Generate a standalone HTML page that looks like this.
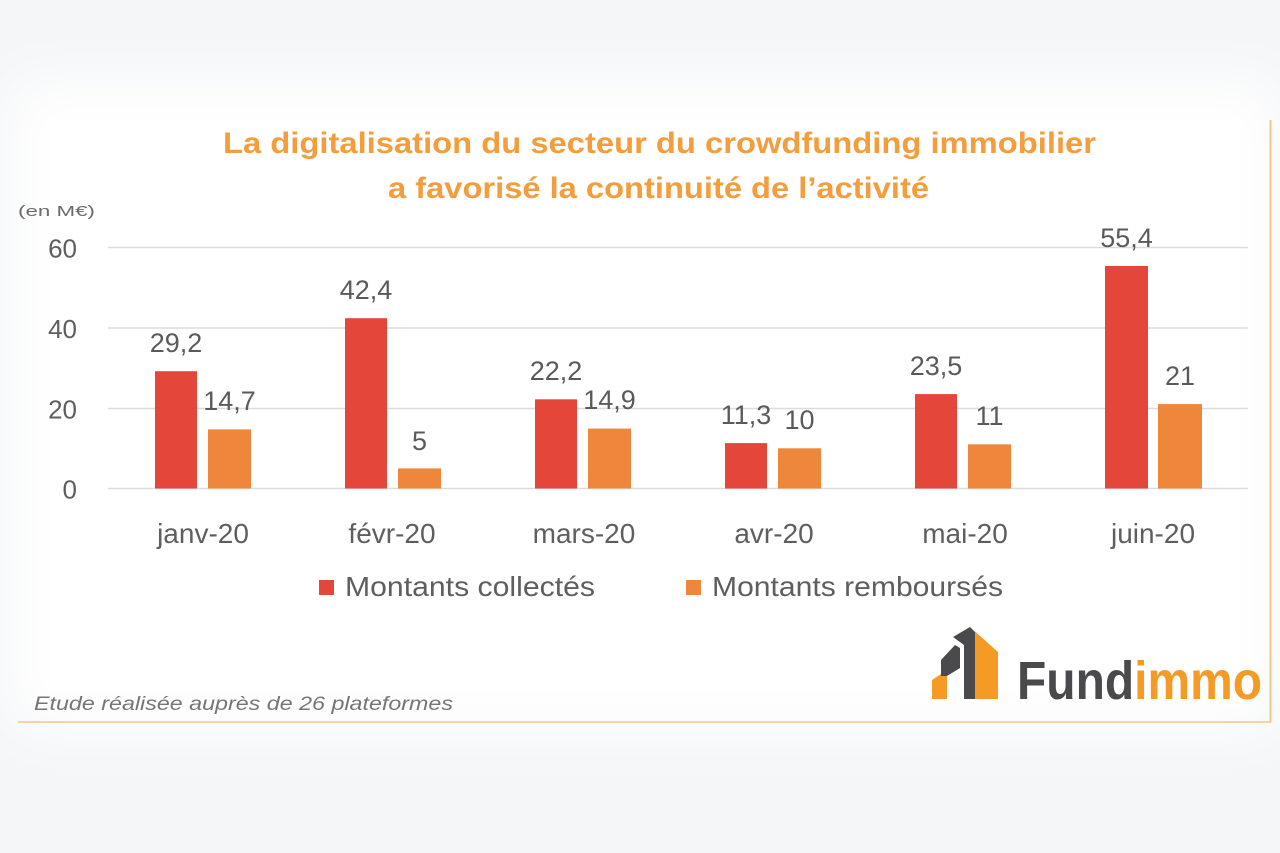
<!DOCTYPE html>
<html>
<head>
<meta charset="utf-8">
<style>
html,body{margin:0;padding:0;}
body{width:1280px;height:853px;background:#f5f6f8;position:relative;overflow:hidden;font-family:"Liberation Sans",Arial,sans-serif;}
.panel{position:absolute;left:50px;top:120px;width:1190px;height:570px;background:#ffffff;box-shadow:0 0 60px 40px #ffffff;}
svg{position:absolute;left:0;top:0;}
</style>
</head>
<body>
<div class="panel"></div>
<svg width="1280" height="853" viewBox="0 0 1280 853" xmlns="http://www.w3.org/2000/svg">
  <!-- borders -->
  <line x1="18" y1="722" x2="1271" y2="722" stroke="#f7d3a2" stroke-width="2"/>
  <line x1="1270.5" y1="120" x2="1270.5" y2="722" stroke="#f5c487" stroke-width="2"/>

  <!-- title -->
  <g font-family="'Liberation Sans',Arial,sans-serif" font-weight="bold" fill="#f39d3d" font-size="30">
    <text x="223" y="153" textLength="873" lengthAdjust="spacingAndGlyphs">La digitalisation du secteur du crowdfunding immobilier</text>
    <text x="388" y="198" textLength="541" lengthAdjust="spacingAndGlyphs">a favorisé la continuité de l’activité</text>
  </g>

  <!-- unit -->
  <text x="18" y="216" font-size="15" fill="#6a6a6a" textLength="77" lengthAdjust="spacingAndGlyphs">(en M€)</text>

  <!-- gridlines -->
  <g stroke="#dcdcdc" stroke-width="1.6">
    <line x1="108" y1="247.5" x2="1248" y2="247.5"/>
    <line x1="108" y1="328" x2="1248" y2="328"/>
    <line x1="108" y1="408.5" x2="1248" y2="408.5"/>
    <line x1="108" y1="488.5" x2="1248" y2="488.5"/>
  </g>

  <!-- y ticks -->
  <g font-size="26" fill="#5e5e5e" text-anchor="end">
    <text x="77" y="257.5">60</text>
    <text x="77" y="338">40</text>
    <text x="77" y="418.5">20</text>
    <text x="77" y="498.5">0</text>
  </g>

  <!-- bars red -->
  <g fill="#e5463a">
    <rect x="155" y="371.2" width="42" height="117.3"/>
    <rect x="345" y="318.2" width="42" height="170.3"/>
    <rect x="535" y="399.3" width="42" height="89.2"/>
    <rect x="725" y="443.1" width="42" height="45.4"/>
    <rect x="915" y="394.1" width="42" height="94.4"/>
    <rect x="1105" y="266" width="43" height="222.5"/>
  </g>
  <!-- bars orange -->
  <g fill="#ee873c">
    <rect x="208" y="429.4" width="43" height="59.1"/>
    <rect x="398" y="468.4" width="43" height="20.1"/>
    <rect x="588" y="428.6" width="43" height="59.9"/>
    <rect x="778" y="448.3" width="43" height="40.2"/>
    <rect x="968" y="444.3" width="43" height="44.2"/>
    <rect x="1158" y="404.1" width="44" height="84.4"/>
  </g>

  <!-- value labels -->
  <g font-size="27" fill="#5a5a5a" text-anchor="middle">
    <text x="176" y="352">29,2</text>
    <text x="366" y="299">42,4</text>
    <text x="556" y="380">22,2</text>
    <text x="746" y="424">11,3</text>
    <text x="936" y="375">23,5</text>
    <text x="1126.5" y="247">55,4</text>

    <text x="229.5" y="410">14,7</text>
    <text x="419.5" y="450">5</text>
    <text x="609.5" y="409">14,9</text>
    <text x="799.5" y="429">10</text>
    <text x="989.5" y="425">11</text>
    <text x="1180" y="385">21</text>
  </g>

  <!-- category labels -->
  <g font-size="28" fill="#5e5e5e" text-anchor="middle">
    <text x="203" y="543">janv-20</text>
    <text x="392" y="543">févr-20</text>
    <text x="584" y="543">mars-20</text>
    <text x="774" y="543">avr-20</text>
    <text x="965" y="543">mai-20</text>
    <text x="1153" y="543">juin-20</text>
  </g>

  <!-- legend -->
  <rect x="319" y="580" width="15" height="15" fill="#e5463a"/>
  <text x="345" y="596" font-size="28" fill="#5e5e5e" textLength="250" lengthAdjust="spacingAndGlyphs">Montants collectés</text>
  <rect x="686" y="580" width="15" height="15" fill="#ee873c"/>
  <text x="712" y="596" font-size="28" fill="#5e5e5e" textLength="291" lengthAdjust="spacingAndGlyphs">Montants remboursés</text>

  <!-- footer -->
  <text x="34" y="710" font-size="19" font-style="italic" fill="#757575" textLength="419" lengthAdjust="spacingAndGlyphs">Etude réalisée auprès de 26 plateformes</text>

  <!-- logo icon -->
  <polygon points="932,680 947,670 947,699 932,699" fill="#f59a25"/>
  <polygon points="941,660 955,645 960,648 960,668 947,676 941,676" fill="#4a4a4c"/>
  <polygon points="953,637 970,627 975,632 975,699 964,699 964,645" fill="#4a4a4c"/>
  <polygon points="970,627 998,652 998,699 975,699 975,632" fill="#f59a25"/>

  <!-- logo text -->
  <text x="1017" y="699" font-size="54" font-weight="bold" textLength="245" lengthAdjust="spacingAndGlyphs"><tspan fill="#4a4a4c">Fund</tspan><tspan fill="#f59a25">immo</tspan></text>
</svg>
</body>
</html>
